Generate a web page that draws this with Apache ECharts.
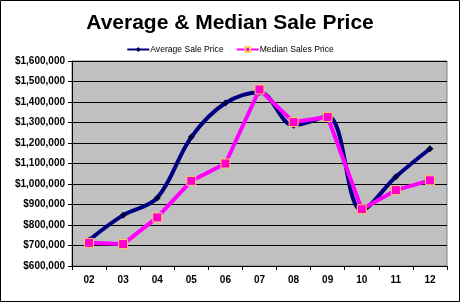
<!DOCTYPE html>
<html>
<head>
<meta charset="utf-8">
<script src="https://cdn.jsdelivr.net/npm/echarts@6/dist/echarts.min.js"></script>
<style>
  html, body { margin: 0; padding: 0; background: #fff; }
  #main { width: 460px; height: 302px; }
</style>
</head>
<body>
<div id="main"></div>
<script>
var years = ['02', '03', '04', '05', '06', '07', '08', '09', '10', '11', '12'];
var averagePrice = [726000, 848000, 932000, 1229000, 1395000, 1448000, 1286000, 1330000, 872000, 1035000, 1172000];
var medianPrice = [713000, 707000, 837000, 1015000, 1100000, 1461000, 1302000, 1327000, 877000, 970000, 1018000];

var myChart = echarts.init(document.getElementById('main'));

function money(v) {
    return '$' + v.toString().replace(/\B(?=(\d{3})+(?!\d))/g, ',');
}

var option = {
    animation: false,
    backgroundColor: '#fff',
    title: {
        text: 'Average & Median Sale Price',
        left: 'center',
        top: 8,
        textStyle: { fontFamily: 'Liberation Sans, Arial', fontWeight: 'bold', fontSize: 21, color: '#000' }
    },
    legend: {
        top: 40,
        left: 'center',
        itemGap: 12,
        itemWidth: 22,
        itemHeight: 6,
        textStyle: { fontFamily: 'Liberation Sans, Arial', fontSize: 8.6, color: '#000', padding: [0, 0, 0, -4] },
        data: ['Average Sale Price', 'Median Sales Price']
    },
    grid: { left: 72, right: 13, top: 61, bottom: 36, show: true, backgroundColor: '#c0c0c0', borderColor: '#808080', borderWidth: 1 },
    xAxis: {
        type: 'category',
        data: years,
        boundaryGap: true,
        axisLine: { lineStyle: { color: '#000', width: 1 } },
        axisTick: { show: true, inside: false, length: 4, lineStyle: { color: '#000' } },
        axisLabel: { fontFamily: 'Liberation Sans, Arial', fontWeight: 'bold', fontSize: 10, color: '#000', margin: 9 }
    },
    yAxis: {
        type: 'value',
        min: 600000,
        max: 1600000,
        interval: 100000,
        axisLine: { show: true, lineStyle: { color: '#000', width: 1 } },
        axisTick: { show: true, length: 4, lineStyle: { color: '#000' } },
        splitLine: { lineStyle: { color: '#000', width: 1 } },
        axisLabel: { fontFamily: 'Liberation Sans, Arial', fontWeight: 'bold', fontSize: 10, color: '#000', margin: 7, formatter: money }
    },
    series: [
        {
            name: 'Average Sale Price',
            type: 'line',
            data: averagePrice,
            smooth: 0.35,
            symbol: 'diamond',
            symbolSize: 7,
            lineStyle: { color: '#000080', width: 4 },
            itemStyle: { color: '#000040', borderColor: '#000040', borderWidth: 0 },
            z: 2
        },
        {
            name: 'Median Sales Price',
            type: 'line',
            data: medianPrice,
            symbol: 'rect',
            symbolSize: 9,
            lineStyle: { color: '#ff00ff', width: 4 },
            itemStyle: { color: '#ff00cc', borderColor: '#ffcc66', borderWidth: 1 },
            z: 3
        }
    ],
    graphic: [{
        type: 'rect',
        shape: { x: 0.5, y: 0.5, width: 459, height: 301 },
        style: { fill: 'none', stroke: '#000', lineWidth: 1 },
        silent: true
    }]
};

myChart.setOption(option);
</script>
</body>
</html>
